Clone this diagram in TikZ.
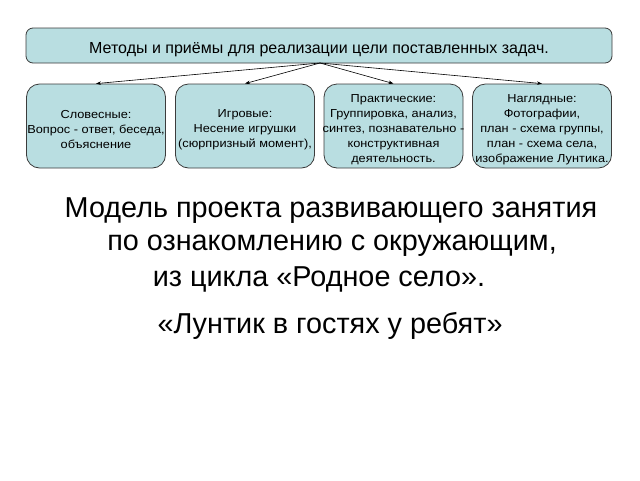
\documentclass[tikz,border=0pt]{standalone}
\usepackage{fontspec}
\setmainfont{Liberation Sans}
\newfontfamily\boxfont[FakeStretch=1.1]{Liberation Sans}
\usetikzlibrary{arrows.meta}
\definecolor{boxfill}{RGB}{185,222,225}
\definecolor{boxline}{RGB}{60,60,60}
\begin{document}
\begin{tikzpicture}[x=1pt,y=-1pt,
  topbox/.style={draw=boxline,fill=boxfill,rounded corners=7pt,line width=0.8pt,
    minimum width=586pt,minimum height=35pt,inner sep=0pt,
    text height=15pt,text depth=0pt,
    font=\fontsize{16}{18}\selectfont},
  subbox/.style={draw=boxline,fill=boxfill,rounded corners=13pt,line width=0.8pt,
    minimum width=139pt,minimum height=84pt,inner sep=0pt},
  boxtext/.style={align=center,inner sep=0pt,yshift=-3.5pt,
    font=\boxfont\fontsize{11.6}{15}\selectfont},
  conn/.style={-{Stealth[length=5pt,width=3.5pt]},line width=0.6pt,black},
  bigtext/.style={font=\fontsize{28.8}{32}\selectfont,inner sep=0pt,anchor=base}]
\useasboundingbox (0,0) rectangle (640,480);
\fill[white] (0,0) rectangle (640,480);
\node[topbox] (top) at (319,45.5) {Методы и приёмы для реализации цели поставленных задач.};
\coordinate (hub) at (320,63);
\node[subbox,label={[boxtext,name=t1]center:{Словесные:\\Вопрос - ответ, беседа,\\объяснение}}] (b1) at (96,126) {};
\node[subbox,label={[boxtext,name=t2]center:{Игровые:\\Несение игрушки\\(сюрпризный момент),}}] (b2) at (245,126) {};
\node[subbox,label={[boxtext,name=t3]center:{Практические:\\Группировка, анализ,\\синтез, познавательно -\\конструктивная\\деятельность.}}] (b3) at (393.5,126) {};
\node[subbox,label={[boxtext,name=t4]center:{Наглядные:\\Фотографии,\\план - схема группы,\\план - схема села,\\изображение Лунтика.}}] (b4) at (542,126) {};
\draw[conn] (hub) -- (b1.north);
\draw[conn] (hub) -- (b2.north);
\draw[conn] (hub) -- (b3.north);
\draw[conn] (hub) -- (b4.north);
\node[bigtext] (l1) at (331,217) {Модель проекта развивающего занятия};
\node[bigtext] (l2) at (332,250) {по ознакомлению с окружающим,};
\node[bigtext] (l3) at (319,286) {из цикла «Родное село».};
\node[bigtext] (l4) at (330,333) {«Лунтик в гостях у ребят»};
\end{tikzpicture}
\end{document}
